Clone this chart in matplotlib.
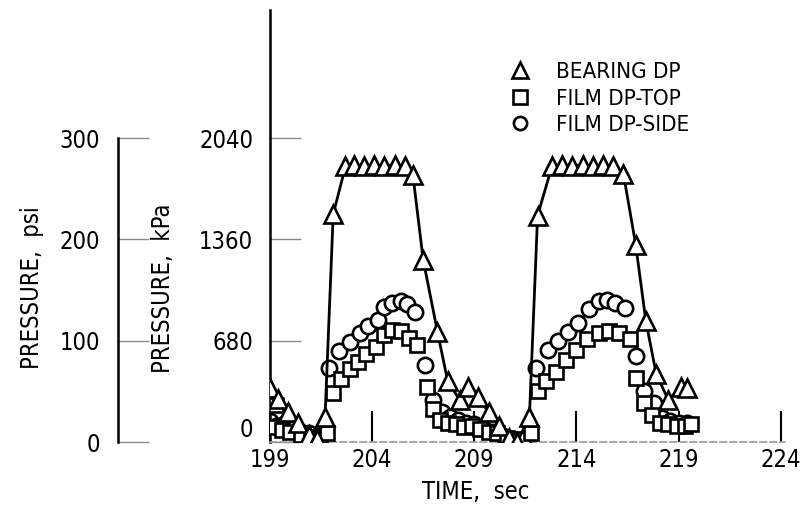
import matplotlib
matplotlib.use("Agg")
import matplotlib.pyplot as plt
from matplotlib.lines import Line2D

plt.rcParams["font.family"] = ["DejaVu Sans"]
plt.rcParams["font.stretch"] = "condensed"

# Bearing differential pressure, kPa
bearing_t = [199.0, 199.4, 199.9, 200.4, 200.9, 201.3, 201.7, 202.1, 202.7, 203.1,
             203.6, 204.1, 204.6, 205.1, 205.6, 206.0, 206.5, 207.2, 207.7, 208.3,
             208.7, 209.2, 209.7, 210.2, 210.7, 211.1, 211.7, 212.1, 212.8, 213.3,
             213.8, 214.3, 214.8, 215.3, 215.8, 216.3, 216.9, 217.4, 217.9, 218.5,
             219.1, 219.4]
bearing_p = [360, 290, 200, 130, 50, 20, 170, 1530, 1850, 1860,
             1855, 1860, 1855, 1860, 1855, 1790, 1225, 740, 410, 280,
             370, 300, 200, 110, 30, 0, 170, 1520, 1850, 1860,
             1855, 1860, 1855, 1860, 1855, 1800, 1325, 810, 460, 280,
             370, 360]

# Film differential pressure, top tap
top_t = [199.0, 199.3, 199.6, 200.0, 200.5, 201.0, 201.4, 201.8, 202.1, 202.5,
         202.9, 203.3, 203.7, 204.2, 204.6, 205.0, 205.4, 205.8, 206.2, 206.7,
         207.0, 207.3, 207.7, 208.1, 208.5, 208.9, 209.3, 209.7, 210.1, 210.6,
         211.0, 211.4, 211.8, 212.1, 212.5, 213.0, 213.5, 214.0, 214.5, 215.1,
         215.6, 216.1, 216.6, 216.9, 217.3, 217.7, 218.1, 218.5, 218.9, 219.3,
         219.6]
top_p = [100, 250, 80, 70, 50, 30, 20, 60, 330, 420,
         490, 540, 590, 640, 720, 750, 745, 700, 650, 370,
         220, 150, 130, 120, 100, 110, 90, 70, 60, 30,
         10, 20, 60, 340, 410, 470, 550, 620, 690, 735,
         745, 735, 690, 430, 260, 180, 130, 120, 110, 110,
         120]

# Film differential pressure, side tap
side_t = [199.0, 199.3, 199.7, 200.1, 200.5, 200.9, 201.3, 201.6, 201.9, 202.4,
          202.9, 203.4, 203.8, 204.3, 204.6, 205.0, 205.4, 205.7, 206.1, 206.6,
          207.0, 207.4, 207.8, 208.2, 208.6, 209.0, 209.5, 209.9, 210.4, 210.8,
          211.2, 211.6, 212.0, 212.6, 213.1, 213.6, 214.1, 214.6, 215.1, 215.5,
          215.9, 216.4, 216.9, 217.3, 217.8, 218.2, 218.6, 219.0, 219.4]
side_p = [140, 110, 120, 90, 70, 60, 40, 50, 500, 610,
          670, 730, 780, 820, 905, 935, 950, 925, 870, 520,
          280, 200, 170, 150, 130, 120, 90, 70, 40, 20,
          10, 30, 500, 620, 675, 740, 800, 890, 945, 955,
          935, 900, 580, 340, 260, 160, 140, 130, 130]

kpa_ticks = [0, 680, 1360, 2040]
psi_ticks = [0, 100, 200, 300]
time_ticks = [199, 204, 209, 214, 219, 224]

KPA_PER_PSI = 6.8
Y_TOP = 2900
FS = 17

fig = plt.figure(figsize=(8.08, 5.14), dpi=100, facecolor="white")
ax = fig.add_axes([0.334, 0.140, 0.6374, 0.8405])

mk = dict(linestyle="none", markerfacecolor="white", markeredgecolor="black",
          markeredgewidth=1.9)
ax.plot(side_t, side_p, marker="o", markersize=11, zorder=2, **mk)
ax.plot(top_t, top_p, marker="s", markersize=10, zorder=3, **mk)
ax.plot(bearing_t, bearing_p, color="black", lw=2.0, marker="^", markersize=13,
        markerfacecolor="white", markeredgecolor="black", markeredgewidth=1.9, zorder=4)

ax.set_xlim(199, 224.2)
ax.set_ylim(0, Y_TOP)
ax.set_xticks(time_ticks)
ax.set_yticks(kpa_ticks)
ax.tick_params(axis="x", direction="in", length=22, width=1.5, color="black",
               labelsize=FS, pad=4)
ax.tick_params(axis="y", direction="in", length=22, width=1.0, color="#888888",
               labelsize=FS, pad=12)
ax.get_yticklabels()[0].set_va("bottom")
for s in ("top", "right"):
    ax.spines[s].set_visible(False)
ax.spines["left"].set_linewidth(1.8)
ax.spines["bottom"].set_color("#999999")
ax.spines["bottom"].set_linestyle((0, (4, 2)))
ax.spines["bottom"].set_linewidth(1.2)
ax.set_xlabel("TIME,  sec", fontsize=FS)
ax.xaxis.set_label_coords(0.40, -0.088)

# Second scale in psi, same vertical mapping
axp = fig.add_axes([0.146, 0.140, 0.05, 0.8405])
axp.set_ylim(0, Y_TOP / KPA_PER_PSI)
axp.set_yticks(psi_ticks)
axp.set_xticks([])
axp.patch.set_visible(False)
for s in ("top", "right", "bottom"):
    axp.spines[s].set_visible(False)
axp.spines["left"].set_bounds(0, 300)
axp.spines["left"].set_linewidth(1.8)
axp.tick_params(axis="y", direction="in", length=22, width=1.0, color="#888888",
                labelsize=FS, pad=13)

fig.text(0.039, 0.44, "PRESSURE,  psi", rotation=90, ha="center", va="center",
         fontsize=FS)
fig.text(0.202, 0.44, "PRESSURE,  kPa", rotation=90, ha="center", va="center",
         fontsize=FS)

handles = [
    Line2D([], [], marker="^", markersize=11, **mk),
    Line2D([], [], marker="s", markersize=9.5, **mk),
    Line2D([], [], marker="o", markersize=9.5, **mk),
]
ax.legend(handles, ["BEARING DP", "FILM DP-TOP", "FILM DP-SIDE"],
          loc="upper left", bbox_to_anchor=(0.465, 0.88), frameon=False,
          fontsize=16, handlelength=1.0, handletextpad=1.1, labelspacing=0.3,
          borderpad=0, borderaxespad=0)

fig.savefig("out.png", dpi=100, facecolor="white")
